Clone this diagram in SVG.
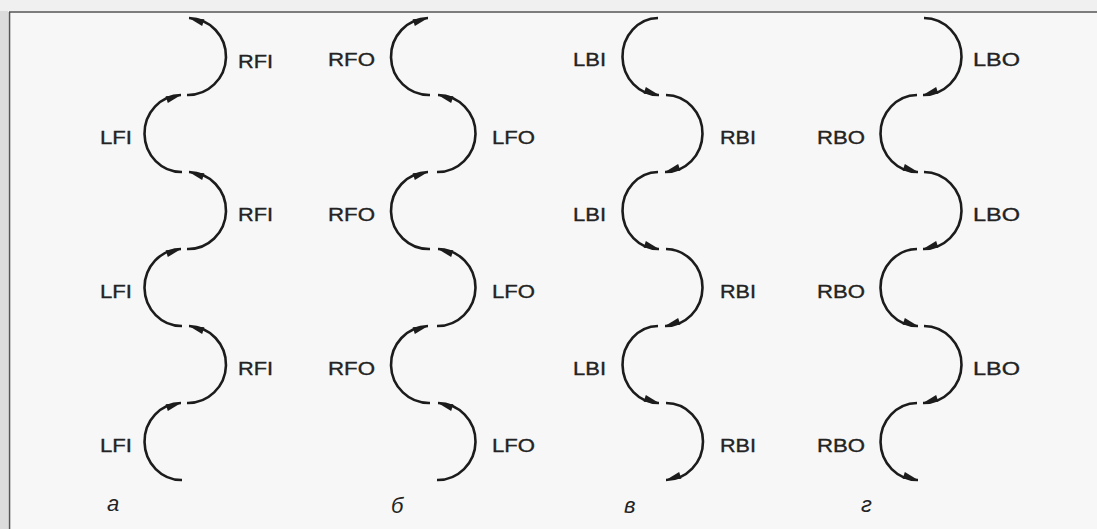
<svg xmlns="http://www.w3.org/2000/svg" xmlns:xlink="http://www.w3.org/1999/xlink" width="1097" height="529" viewBox="0 0 1097 529">
<style>
.arc{fill:none;stroke:#1c1c1c;stroke-width:2.6;stroke-linecap:butt}
.lbl{font-family:"Liberation Sans",Arial,sans-serif;font-size:19px;fill:#232323;stroke:#232323;stroke-width:0.35}
.cap{font-family:"Liberation Sans",Arial,sans-serif;font-size:22px;font-style:italic;fill:#232323}
</style>
<defs>
<path id="ah" d="M0,0 L-15,-3.6 L-15,3.6 z" fill="#1c1c1c"/>
</defs>
<rect x="0" y="0" width="1097" height="529" fill="#f7f7f7"/>
<rect x="0" y="0" width="8" height="529" fill="#dcdcdc"/>
<rect x="0" y="0" width="1097" height="11" fill="#f0f0f0"/>
<line x1="9" y1="12" x2="1097" y2="12" stroke="#555" stroke-width="1.6"/>
<line x1="9.5" y1="12" x2="9.5" y2="529" stroke="#555" stroke-width="1.6"/>

<!-- column a -->
<g id="a1"><path class="arc" d="M187,95 A38,38.5 0 0 0 189,18"/><use xlink:href="#ah" href="#ah" transform="translate(189,18) rotate(198)"/><text class="lbl" x="238" y="68" textLength="35" lengthAdjust="spacingAndGlyphs">RFI</text></g>
<g id="a2"><path class="arc" d="M182,172 A37,38.5 0 0 1 181,95"/><use xlink:href="#ah" href="#ah" transform="translate(181,95) rotate(342)"/><text class="lbl" x="100" y="144" textLength="32" lengthAdjust="spacingAndGlyphs">LFI</text></g>
<g id="a3"><path class="arc" d="M187,249 A38,38.5 0 0 0 189,172"/><use xlink:href="#ah" href="#ah" transform="translate(189,172) rotate(198)"/><text class="lbl" x="238" y="221" textLength="35" lengthAdjust="spacingAndGlyphs">RFI</text></g>
<g id="a4"><path class="arc" d="M182,326 A37,38.5 0 0 1 181,249"/><use xlink:href="#ah" href="#ah" transform="translate(181,249) rotate(342)"/><text class="lbl" x="100" y="298" textLength="32" lengthAdjust="spacingAndGlyphs">LFI</text></g>
<g id="a5"><path class="arc" d="M187,403 A38,38.5 0 0 0 189,326"/><use xlink:href="#ah" href="#ah" transform="translate(189,326) rotate(198)"/><text class="lbl" x="238" y="375" textLength="35" lengthAdjust="spacingAndGlyphs">RFI</text></g>
<g id="a6"><path class="arc" d="M182,480 A37,38.5 0 0 1 181,403"/><use xlink:href="#ah" href="#ah" transform="translate(181,403) rotate(342)"/><text class="lbl" x="100" y="452" textLength="32" lengthAdjust="spacingAndGlyphs">LFI</text></g>

<!-- column b -->
<g id="b1"><path class="arc" d="M430,95 A38,38.5 0 0 1 428,18"/><use xlink:href="#ah" href="#ah" transform="translate(428,18) rotate(342)"/><text class="lbl" x="328" y="66" textLength="47" lengthAdjust="spacingAndGlyphs">RFO</text></g>
<g id="b2"><path class="arc" d="M437,172 A38,38.5 0 0 0 438,95"/><use xlink:href="#ah" href="#ah" transform="translate(438,95) rotate(198)"/><text class="lbl" x="492" y="144" textLength="43" lengthAdjust="spacingAndGlyphs">LFO</text></g>
<g id="b3"><path class="arc" d="M430,249 A38,38.5 0 0 1 428,172"/><use xlink:href="#ah" href="#ah" transform="translate(428,172) rotate(342)"/><text class="lbl" x="328" y="221" textLength="47" lengthAdjust="spacingAndGlyphs">RFO</text></g>
<g id="b4"><path class="arc" d="M437,326 A38,38.5 0 0 0 438,249"/><use xlink:href="#ah" href="#ah" transform="translate(438,249) rotate(198)"/><text class="lbl" x="492" y="298" textLength="43" lengthAdjust="spacingAndGlyphs">LFO</text></g>
<g id="b5"><path class="arc" d="M430,403 A38,38.5 0 0 1 428,326"/><use xlink:href="#ah" href="#ah" transform="translate(428,326) rotate(342)"/><text class="lbl" x="328" y="375" textLength="47" lengthAdjust="spacingAndGlyphs">RFO</text></g>
<g id="b6"><path class="arc" d="M437,480 A38,38.5 0 0 0 438,403"/><use xlink:href="#ah" href="#ah" transform="translate(438,403) rotate(198)"/><text class="lbl" x="492" y="452" textLength="43" lengthAdjust="spacingAndGlyphs">LFO</text></g>

<!-- column v -->
<g id="c1"><path class="arc" d="M658,18 A36,38.5 0 0 0 659,95"/><use xlink:href="#ah" href="#ah" transform="translate(659,95) rotate(18)"/><text class="lbl" x="573" y="66" textLength="33" lengthAdjust="spacingAndGlyphs">LBI</text></g>
<g id="c2"><path class="arc" d="M666,95 A37,38.5 0 0 1 665,172"/><use xlink:href="#ah" href="#ah" transform="translate(665,172) rotate(162)"/><text class="lbl" x="720" y="144" textLength="36" lengthAdjust="spacingAndGlyphs">RBI</text></g>
<g id="c3"><path class="arc" d="M658,172 A36,38.5 0 0 0 659,249"/><use xlink:href="#ah" href="#ah" transform="translate(659,249) rotate(18)"/><text class="lbl" x="573" y="221" textLength="33" lengthAdjust="spacingAndGlyphs">LBI</text></g>
<g id="c4"><path class="arc" d="M666,249 A37,38.5 0 0 1 665,326"/><use xlink:href="#ah" href="#ah" transform="translate(665,326) rotate(162)"/><text class="lbl" x="720" y="298" textLength="36" lengthAdjust="spacingAndGlyphs">RBI</text></g>
<g id="c5"><path class="arc" d="M658,326 A36,38.5 0 0 0 659,403"/><use xlink:href="#ah" href="#ah" transform="translate(659,403) rotate(18)"/><text class="lbl" x="573" y="375" textLength="33" lengthAdjust="spacingAndGlyphs">LBI</text></g>
<g id="c6"><path class="arc" d="M666,403 A37,38.5 0 0 1 666,480"/><use xlink:href="#ah" href="#ah" transform="translate(666,480) rotate(162)"/><text class="lbl" x="720" y="452" textLength="36" lengthAdjust="spacingAndGlyphs">RBI</text></g>

<!-- column g -->
<g id="d1"><path class="arc" d="M924,18 A38,38.5 0 0 1 923,95"/><use xlink:href="#ah" href="#ah" transform="translate(923,95) rotate(162)"/><text class="lbl" x="973" y="66" textLength="47" lengthAdjust="spacingAndGlyphs">LBO</text></g>
<g id="d2"><path class="arc" d="M917,95 A37,38.5 0 0 0 918,172"/><use xlink:href="#ah" href="#ah" transform="translate(918,172) rotate(18)"/><text class="lbl" x="817" y="144" textLength="48" lengthAdjust="spacingAndGlyphs">RBO</text></g>
<g id="d3"><path class="arc" d="M924,172 A38,38.5 0 0 1 923,249"/><use xlink:href="#ah" href="#ah" transform="translate(923,249) rotate(162)"/><text class="lbl" x="973" y="221" textLength="47" lengthAdjust="spacingAndGlyphs">LBO</text></g>
<g id="d4"><path class="arc" d="M917,249 A37,38.5 0 0 0 918,326"/><use xlink:href="#ah" href="#ah" transform="translate(918,326) rotate(18)"/><text class="lbl" x="817" y="298" textLength="48" lengthAdjust="spacingAndGlyphs">RBO</text></g>
<g id="d5"><path class="arc" d="M924,326 A38,38.5 0 0 1 923,403"/><use xlink:href="#ah" href="#ah" transform="translate(923,403) rotate(162)"/><text class="lbl" x="973" y="375" textLength="47" lengthAdjust="spacingAndGlyphs">LBO</text></g>
<g id="d6"><path class="arc" d="M917,403 A37,38.5 0 0 0 918,480"/><use xlink:href="#ah" href="#ah" transform="translate(918,480) rotate(18)"/><text class="lbl" x="817" y="452" textLength="48" lengthAdjust="spacingAndGlyphs">RBO</text></g>

<g id="connectors"></g>

<g id="captions">
<text class="cap" x="107" y="511">а</text>
<text class="cap" x="391" y="513">б</text>
<text class="cap" x="624" y="513">в</text>
<text class="cap" x="861" y="512">г</text>
</g>
</svg>
